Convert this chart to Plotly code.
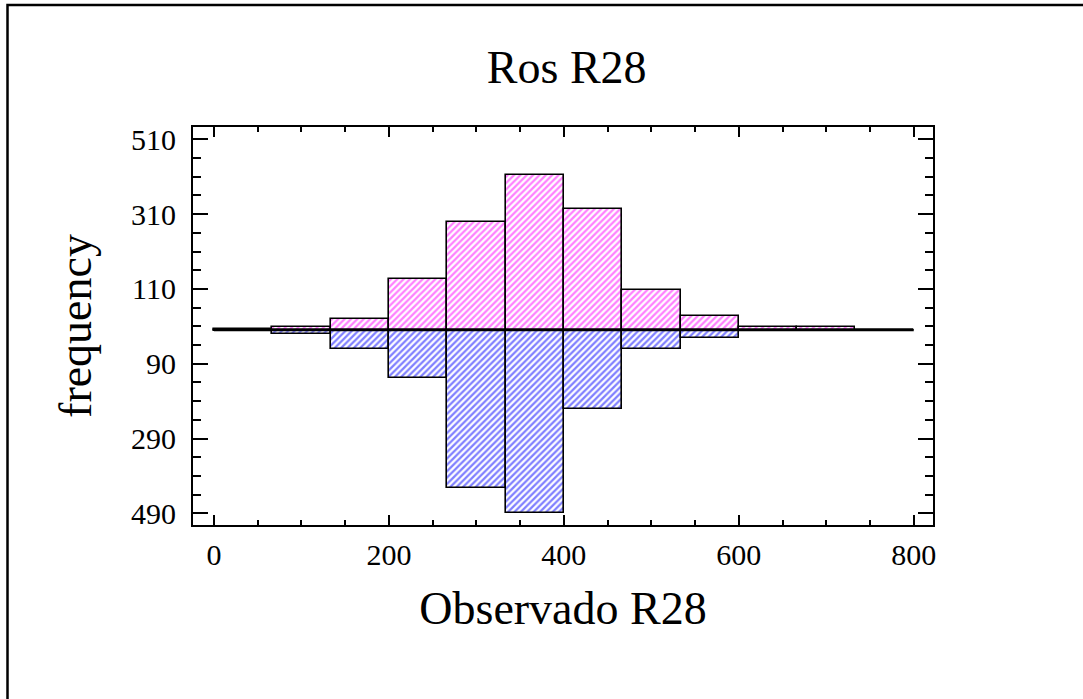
import plotly.graph_objects as go

# histogram bins (Observado R28), 12 bins of equal width from 0 to 800
bin_edges = [0, 66.67, 133.33, 200, 266.67, 333.33, 400, 466.67, 533.33, 600, 666.67, 733.33, 800]
# upper (pink) and lower (blue) frequencies per bin
freq_upper = [3, 9, 29, 136, 288, 416, 323, 107, 37, 9, 9, 0]
freq_lower = [3, 11, 50, 128, 422, 489, 211, 50, 20, 3, 3, 0]

# y tick values / labels (lower half shown as absolute counts)
y_tickvals = [510, 310, 110, -90, -290, -490]
y_ticktext = ["510", "310", "110", "90", "290", "490"]
x_tickvals = [0, 200, 400, 600, 800]

centers = [(a + b) / 2 for a, b in zip(bin_edges[:-1], bin_edges[1:])]
widths = [b - a for a, b in zip(bin_edges[:-1], bin_edges[1:])]

FONT = "Liberation Serif, Times New Roman, serif"

fig = go.Figure()
fig.add_trace(go.Bar(
    x=centers, y=freq_upper, width=widths,
    marker=dict(color="white", line=dict(color="black", width=1.6),
                pattern=dict(shape="/", fgcolor="#ff00ff", bgcolor="white", size=4.5, solidity=0.5)),
    showlegend=False,
))
fig.add_trace(go.Bar(
    x=centers, y=[-v for v in freq_lower], width=widths,
    marker=dict(color="white", line=dict(color="black", width=1.6),
                pattern=dict(shape="/", fgcolor="#0000ff", bgcolor="white", size=4.5, solidity=0.5)),
    showlegend=False,
))
# baseline across the histogram range
fig.add_trace(go.Scatter(x=[bin_edges[0], bin_edges[-1]], y=[0, 0], mode="lines",
                         line=dict(color="black", width=2.2), showlegend=False))

axis_common = dict(
    showline=True, linecolor="black", linewidth=2, mirror="ticks",
    ticks="inside", tickcolor="black", showgrid=False, zeroline=False,
    tickfont=dict(family=FONT, size=30, color="black"),
)

fig.update_xaxes(
    range=[-24, 822], tickmode="array", tickvals=x_tickvals,
    ticklen=10, tickwidth=2, ticklabelstandoff=2,
    minor=dict(ticks="inside", ticklen=5, tickwidth=1.5, tickcolor="black",
               tickmode="linear", tick0=0, dtick=50),
    title=dict(text="Observado R28", font=dict(family=FONT, size=46, color="black"), standoff=22),
    **axis_common,
)
fig.update_yaxes(
    range=[-521, 543], tickmode="array", tickvals=y_tickvals, ticktext=y_ticktext,
    ticklen=15, tickwidth=2, ticklabelstandoff=9,
    minor=dict(ticks="inside", ticklen=8, tickwidth=1.5, tickcolor="black",
               tickmode="linear", tick0=10, dtick=50),
    title=dict(text="frequency", font=dict(family=FONT, size=46, color="black"), standoff=25),
    **axis_common,
)

fig.update_layout(
    width=1083, height=699, autosize=False,
    margin=dict(l=193, r=150, t=127, b=174, pad=0),
    paper_bgcolor="white", plot_bgcolor="white",
    barmode="overlay", bargap=0,
    title=dict(text="Ros R28", font=dict(family=FONT, size=46, color="black"),
               x=0.505, xref="paper", xanchor="center",
               y=1 - 67 / 699, yref="container", yanchor="middle"),
    shapes=[dict(type="rect", xref="paper", yref="paper",
                 x0=(7.5 - 193) / 740, x1=1.6, y0=-0.7, y1=(525 - 5) / 398,
                 line=dict(color="black", width=2.5), layer="above")],
)

# page body margin removed so the figure sits at the window origin
fig.write_html("out.html", config={"displayModeBar": False},
               post_script="document.body.style.margin='0';")
